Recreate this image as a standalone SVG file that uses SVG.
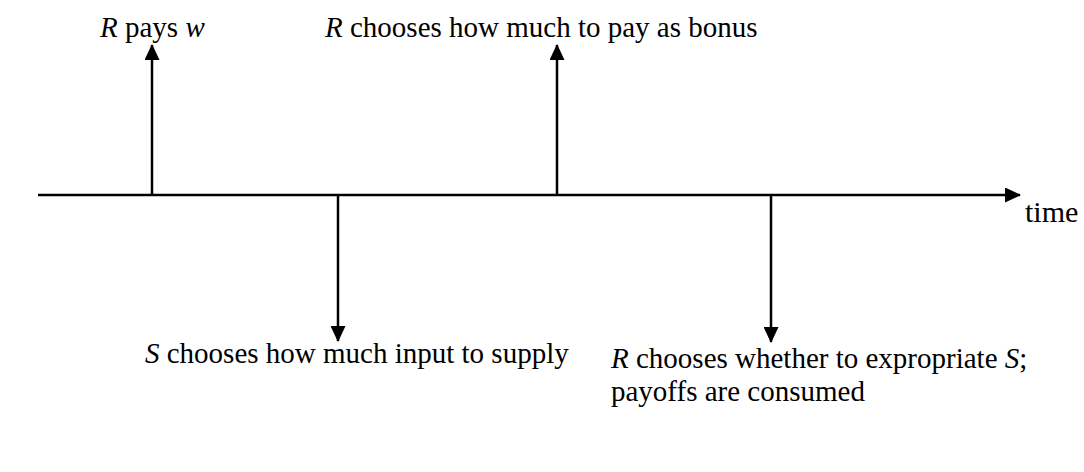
<svg xmlns="http://www.w3.org/2000/svg" width="1084" height="472" viewBox="0 0 1084 472">
<style>
.t{font-family:"Liberation Serif","Times New Roman",serif;font-size:29px;fill:#000}
.i{font-style:italic}
.ln{stroke:#000;stroke-width:2.5;fill:none}
</style>
<defs>
<marker id="ah" viewBox="0 0 16 15" refX="15" refY="7.5" markerWidth="16" markerHeight="15" markerUnits="userSpaceOnUse" orient="auto">
<path d="M0,0 L16,7.5 L0,15 Z" fill="#000"/>
</marker>
</defs>
<rect width="1084" height="472" fill="#fff"/>
<g id="connectors">
<line class="ln" x1="38" y1="195" x2="1020" y2="195" marker-end="url(#ah)"/>
<line class="ln" x1="152" y1="195" x2="152" y2="45" marker-end="url(#ah)"/>
<line class="ln" x1="557" y1="195" x2="557" y2="45" marker-end="url(#ah)"/>
<line class="ln" x1="338" y1="195" x2="338" y2="341" marker-end="url(#ah)"/>
<line class="ln" x1="771" y1="195" x2="771" y2="342" marker-end="url(#ah)"/>
</g>
<g id="node-pays">
<text class="t" x="100" y="37"><tspan class="i">R</tspan> pays <tspan class="i">w</tspan></text>
</g>
<g id="node-bonus">
<text class="t" x="325" y="37"><tspan class="i">R</tspan> chooses how much to pay as bonus</text>
</g>
<g id="node-time">
<text class="t" x="1025" y="222" style="font-size:30px">time</text>
</g>
<g id="node-supply">
<text class="t" x="145" y="363"><tspan class="i">S</tspan> chooses how much input to supply</text>
</g>
<g id="node-expropriate">
<text class="t" x="611" y="368"><tspan class="i">R</tspan> chooses whether to expropriate <tspan class="i">S</tspan>;</text>
<text class="t" x="611" y="401">payoffs are consumed</text>
</g>
</svg>
